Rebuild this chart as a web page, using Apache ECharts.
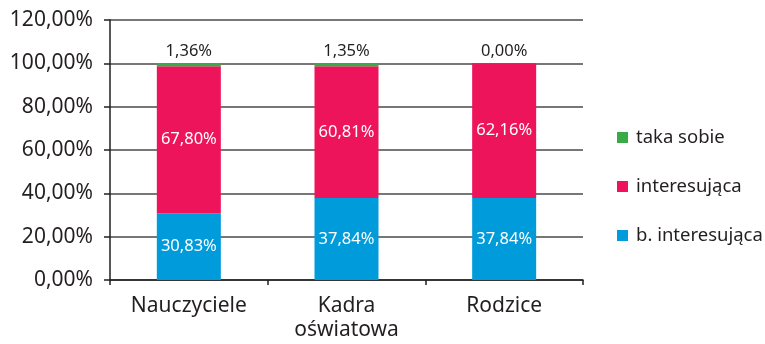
<!DOCTYPE html>
<html>
<head>
<meta charset="utf-8">
<script src="https://cdn.jsdelivr.net/npm/echarts@6/dist/echarts.min.js"></script>
<style>
  html, body { margin: 0; padding: 0; background: #fff; }
  #chart { width: 765px; height: 344px; }
</style>
</head>
<body>
<div id="chart"></div>
<script>
// Survey answers per respondent group (percent)
const categories = ['Nauczyciele', 'Kadra\noświatowa', 'Rodzice'];
const bInteresujaca = [30.83, 37.84, 37.84];
const interesujaca = [67.80, 60.81, 62.16];
const takaSobie = [1.36, 1.35, 0.00];
const yTicks = { min: 0, max: 120, interval: 20 };

const FONT = '"Noto Sans", "Open Sans", sans-serif';
const TEXT = '#231f20';
const fmt = v => v.toFixed(2).replace('.', ',') + '%';

const chart = echarts.init(document.getElementById('chart'), null, { renderer: 'canvas' });

const insideLabel = {
  show: true,
  position: 'inside',
  color: '#ffffff',
  fontFamily: FONT,
  fontSize: 16.5,
  formatter: p => fmt(p.value)
};

chart.setOption({
  animation: false,
  backgroundColor: '#ffffff',
  grid: { left: 110, right: 182, top: 20, bottom: 64, containLabel: false },
  legend: {
    orient: 'vertical',
    left: 617,
    top: 128,
    padding: 0,
    itemWidth: 11,
    itemHeight: 11,
    itemGap: 30,
    icon: 'rect',
    textStyle: { fontFamily: FONT, fontSize: 18.5, color: TEXT, padding: [0, 0, 0, 3] },
    data: ['taka sobie', 'interesująca', 'b. interesująca']
  },
  xAxis: {
    type: 'category',
    data: categories,
    axisLine: { lineStyle: { color: TEXT, width: 1.5 } },
    axisTick: { show: true, length: 5, lineStyle: { color: TEXT, width: 1.5 } },
    axisLabel: { fontFamily: FONT, fontSize: 21, color: TEXT, margin: 14, lineHeight: 24 }
  },
  yAxis: {
    type: 'value',
    min: yTicks.min,
    max: yTicks.max,
    interval: yTicks.interval,
    axisLine: { show: true, lineStyle: { color: TEXT, width: 1.5 } },
    axisTick: { show: true, length: 6, inside: false, lineStyle: { color: TEXT, width: 1.5 } },
    axisLabel: { fontFamily: FONT, fontSize: 21, color: TEXT, margin: 17, formatter: v => fmt(v) },
    splitLine: { show: true, lineStyle: { color: '#4a4a4a', width: 1.5 } }
  },
  series: [
    {
      name: 'b. interesująca',
      type: 'bar',
      stack: 'total',
      barWidth: 64,
      data: bInteresujaca,
      itemStyle: { color: '#009bdb' },
      label: insideLabel
    },
    {
      name: 'interesująca',
      type: 'bar',
      stack: 'total',
      barWidth: 64,
      data: interesujaca,
      itemStyle: { color: '#ed145b' },
      label: insideLabel
    },
    {
      name: 'taka sobie',
      type: 'bar',
      stack: 'total',
      barWidth: 64,
      data: takaSobie,
      itemStyle: { color: '#3aaa48' },
      label: {
        show: true,
        position: 'top',
        distance: 4,
        color: TEXT,
        fontFamily: FONT,
        fontSize: 16.5,
        formatter: p => fmt(p.value)
      }
    }
  ]
});
</script>
</body>
</html>
